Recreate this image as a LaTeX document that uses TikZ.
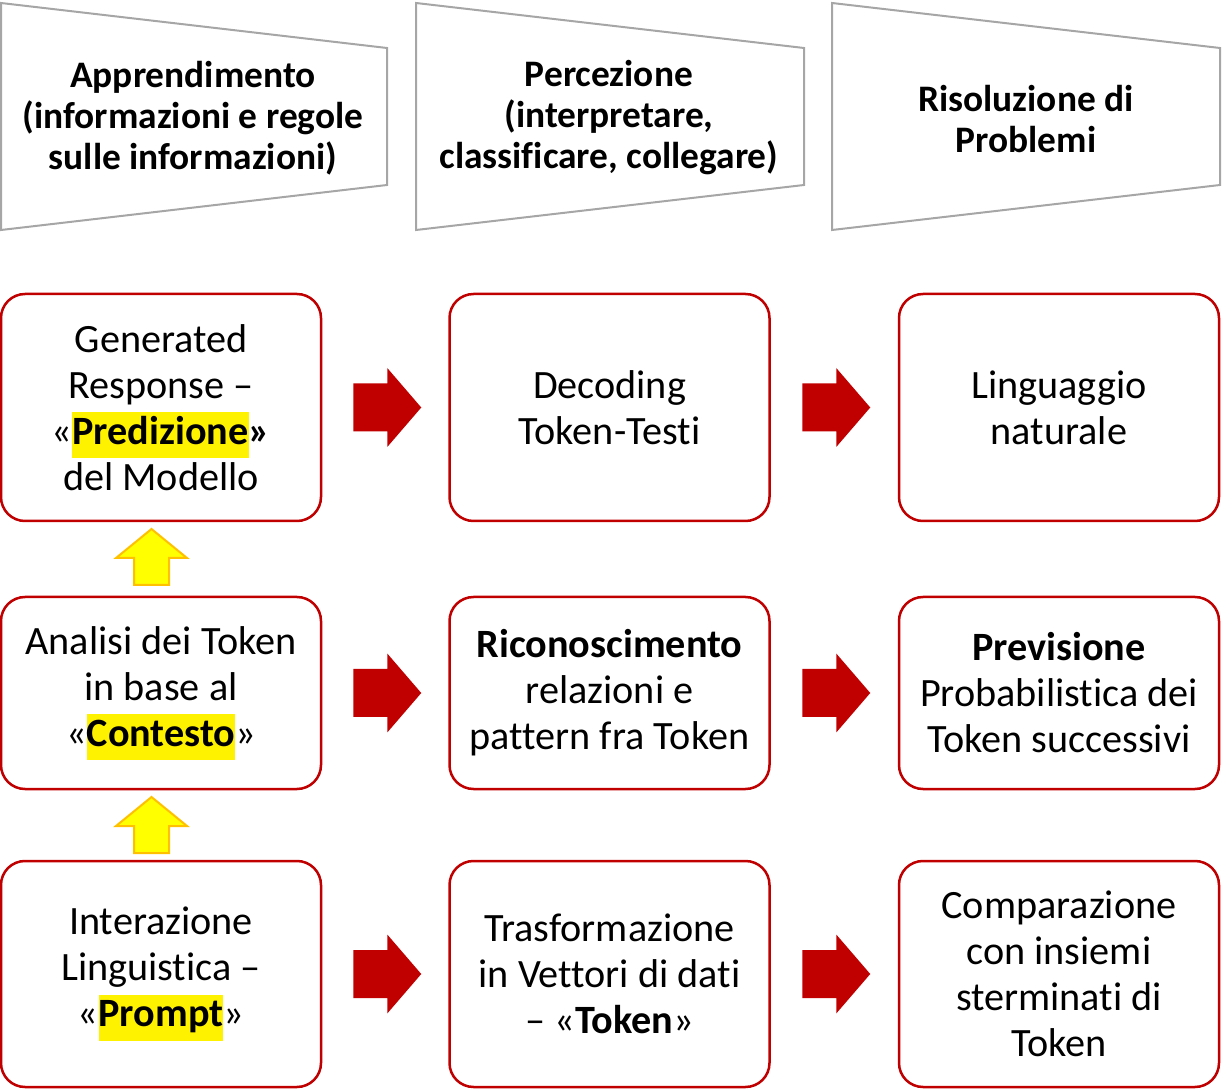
\documentclass[tikz,border=0pt]{standalone}
\usepackage{fontspec}
\setmainfont{Carlito}[Ligatures={NoCommon}]
\usetikzlibrary{calc}
\definecolor{boxred}{HTML}{C00000}
\definecolor{headgray}{HTML}{A6A6A6}
\definecolor{upyellow}{HTML}{FFFF00}
\definecolor{uporange}{HTML}{FFC000}
\newcommand{\evid}[1]{{\setlength{\fboxsep}{0pt}\colorbox{yellow}{\strut\textbf{#1}}}}
\tikzset{
	stepbox/.style={draw=boxred,line width=1.25pt,rounded corners=12pt,align=center,
		minimum width=160pt,inner sep=0pt,font=\fontsize{20.1}{23}\selectfont},
	headshape/.style={draw=headgray,line width=1pt},
	headtext/.style={align=center,font=\fontsize{18.7}{20.5}\selectfont\bfseries},
	pics/redarrow/.style={code={
		\fill[boxred] (-34,-24) -- (0,-24) -- (0,-39.5) -- (34,0) -- (0,39.5) -- (0,24) -- (-34,24) -- cycle;
	}},
	pics/uparrow/.style={code={
		\draw[draw=uporange,fill=upyellow,line width=1pt] (-17.5,28) -- (-17.5,1) -- (-35.5,1) -- (0,-28)
			-- (35.5,1) -- (17.5,1) -- (17.5,28) -- cycle;
	}}
}
\begin{document}
\begin{tikzpicture}[x=0.5pt,y=-0.5pt]
	\useasboundingbox (0,0) rectangle (1223,1091);
	% headers
	\draw[headshape] (1,3) -- (387,48) -- (387,185) -- (1,230) -- cycle;
	\draw[headshape] (416,3) -- (804,48) -- (804,185) -- (416,230) -- cycle;
	\draw[headshape] (832,3) -- (1220,48) -- (1220,185) -- (832,230) -- cycle;
	\node[headtext] (learn) at (193,118) {Apprendimento\\(informazioni e regole\\sulle informazioni)};
	\node[headtext] (perc) at (609,118) {Percezione\\(interpretare,\\classificare, collegare)};
	\node[headtext] (solve) at (1026,119) {Risoluzione di\\Problemi};
	% boxes
	\node[stepbox,minimum height=113.5pt] (gen) at (161,407.5) {Generated\\Response –\\«\evid{Predizione}\textbf{»}\\del Modello};
	\node[stepbox,minimum height=113.5pt] (dec) at (609.5,407.5) {Decoding\\Token-Testi};
	\node[stepbox,minimum height=113.5pt] (lng) at (1059,407.5) {Linguaggio\\naturale};
	\node[stepbox,minimum height=96pt] (ana) at (161,693) {Analisi dei Token\\in base al\\«\evid{Contesto}»};
	\node[stepbox,minimum height=96pt] (ric) at (609.5,693) {\textbf{Riconoscimento}\\relazioni e\\pattern fra Token};
	\node[stepbox,minimum height=96pt] (prev) at (1059,693) {\textbf{Previsione}\\Probabilistica dei\\Token successivi};
	\node[stepbox,minimum height=113pt] (prm) at (161,974) {Interazione\\Linguistica –\\«\evid{Prompt}»};
	\node[stepbox,minimum height=113pt] (trasf) at (609.5,974) {Trasformazione\\in Vettori di dati\\– «\textbf{Token}»};
	\node[stepbox,minimum height=113pt] (comp) at (1059,974) {Comparazione\\con insiemi\\sterminati di\\Token};
	% arrows
	\pic at ($(gen.east)!0.5!(dec.west)+(2,0)$) {redarrow};
	\pic at ($(dec.east)!0.5!(lng.west)+(2,0)$) {redarrow};
	\pic at ($(ana.east)!0.5!(ric.west)+(2,0)$) {redarrow};
	\pic at ($(ric.east)!0.5!(prev.west)+(2,0)$) {redarrow};
	\pic at ($(prm.east)!0.5!(trasf.west)+(2,0)$) {redarrow};
	\pic at ($(trasf.east)!0.5!(comp.west)+(2,0)$) {redarrow};
	\pic at ($(ana.north)!0.5!(gen.south)+(-9.5,-2)$) {uparrow};
	\pic at ($(prm.north)!0.5!(ana.south)+(-9.5,0)$) {uparrow};
\end{tikzpicture}
\end{document}
